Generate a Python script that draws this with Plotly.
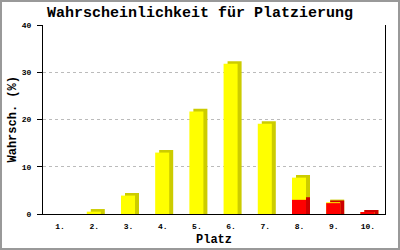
import plotly.graph_objects as go

places = ["1.", "2.", "3.", "4.", "5.", "6.", "7.", "8.", "9.", "10."]
yellow_part = [0, 0.5, 3.9, 13.0, 21.7, 31.8, 19.1, 4.7, 0.2, 0]
red_part = [0, 0, 0, 0, 0, 0, 0, 3.0, 2.3, 0.3]
y_ticks = [0, 10, 20, 30, 40]

title_text = "Wahrscheinlichkeit für Platzierung"
x_title = "Platz"
y_title = "Wahrsch. (%)"

FONT = "Liberation Mono"
DEPTH = 0.55          # 3D depth in value units (vertical)
BAR_W = 0.41
FRONT_OFF = -0.22
SIDE_SHIFT = 0.117    # horizontal depth in category units

total = [a + b for a, b in zip(yellow_part, red_part)]
shadow_total = [t + DEPTH if t > 0 else None for t in total]
shadow_red = [r + DEPTH if r > 0 else None for r in red_part]
front_total = [t if t > 0 else None for t in total]
front_red = [r if r > 0 else None for r in red_part]

fig = go.Figure()
fig.add_bar(x=places, y=shadow_total, width=BAR_W, offset=FRONT_OFF + SIDE_SHIFT,
            marker=dict(color="#cccc00", line=dict(width=0)), hoverinfo="skip")
fig.add_bar(x=places, y=shadow_red, width=BAR_W, offset=FRONT_OFF + SIDE_SHIFT,
            marker=dict(color="#cc0000", line=dict(width=0)), hoverinfo="skip")
fig.add_bar(x=places, y=front_total, width=BAR_W, offset=FRONT_OFF,
            marker=dict(color="#ffff00", line=dict(width=0)))
fig.add_bar(x=places, y=front_red, width=BAR_W, offset=FRONT_OFF,
            marker=dict(color="#ff0000", line=dict(width=0)))

L, R, T, B = 43, 15, 25, 36
W, H = 400, 250
pw, ph = W - L - R, H - T - B

fig.update_layout(
    width=W, height=H,
    margin=dict(l=L, r=R, t=T, b=B, pad=0, autoexpand=False),
    barmode="overlay",
    showlegend=False,
    plot_bgcolor="white",
    paper_bgcolor="white",
    font=dict(family=FONT, color="black"),
    title=dict(text=title_text, x=0.5, xref="container", xanchor="center",
               y=1 - 12 / H, yref="container", yanchor="middle",
               font=dict(family=FONT, size=15, color="black", weight="bold")),
    xaxis=dict(type="category", range=[-0.5, 9.5], showline=True, linecolor="black",
               linewidth=1, ticks="", showgrid=False, zeroline=False, automargin=False,
               tickfont=dict(family=FONT, size=8, color="black", weight="bold"),
               ticklabelstandoff=4),
    yaxis=dict(range=[0, 40], tickvals=y_ticks, showline=True, mirror=True,
               linecolor="black", linewidth=1, ticks="outside", ticklen=5,
               tickcolor="black", showgrid=True, gridcolor="#bbbbbb", griddash="dot",
               zeroline=False, automargin=False,
               tickfont=dict(family=FONT, size=8, color="black", weight="bold"),
               ticklabelstandoff=4),
    annotations=[
        dict(text=x_title, xref="paper", yref="paper", x=0.5, y=-(240 - (T + ph)) / ph,
             xanchor="center", yanchor="middle", showarrow=False,
             font=dict(family=FONT, size=12, color="black", weight="bold")),
        dict(text=y_title, xref="paper", yref="paper", x=(12 - L) / pw, y=0.5,
             xanchor="center", yanchor="middle", showarrow=False, textangle=-90,
             font=dict(family=FONT, size=12, color="black", weight="bold")),
    ],
    shapes=[dict(type="rect", xref="paper", yref="paper",
                 x0=(1 - L) / pw, x1=(W - 1 - L) / pw,
                 y0=-(H - 1 - T - ph) / ph, y1=(ph + T - 1) / ph,
                 line=dict(color="#999999", width=2), layer="above")],
)

fig.write_html("out.html")
